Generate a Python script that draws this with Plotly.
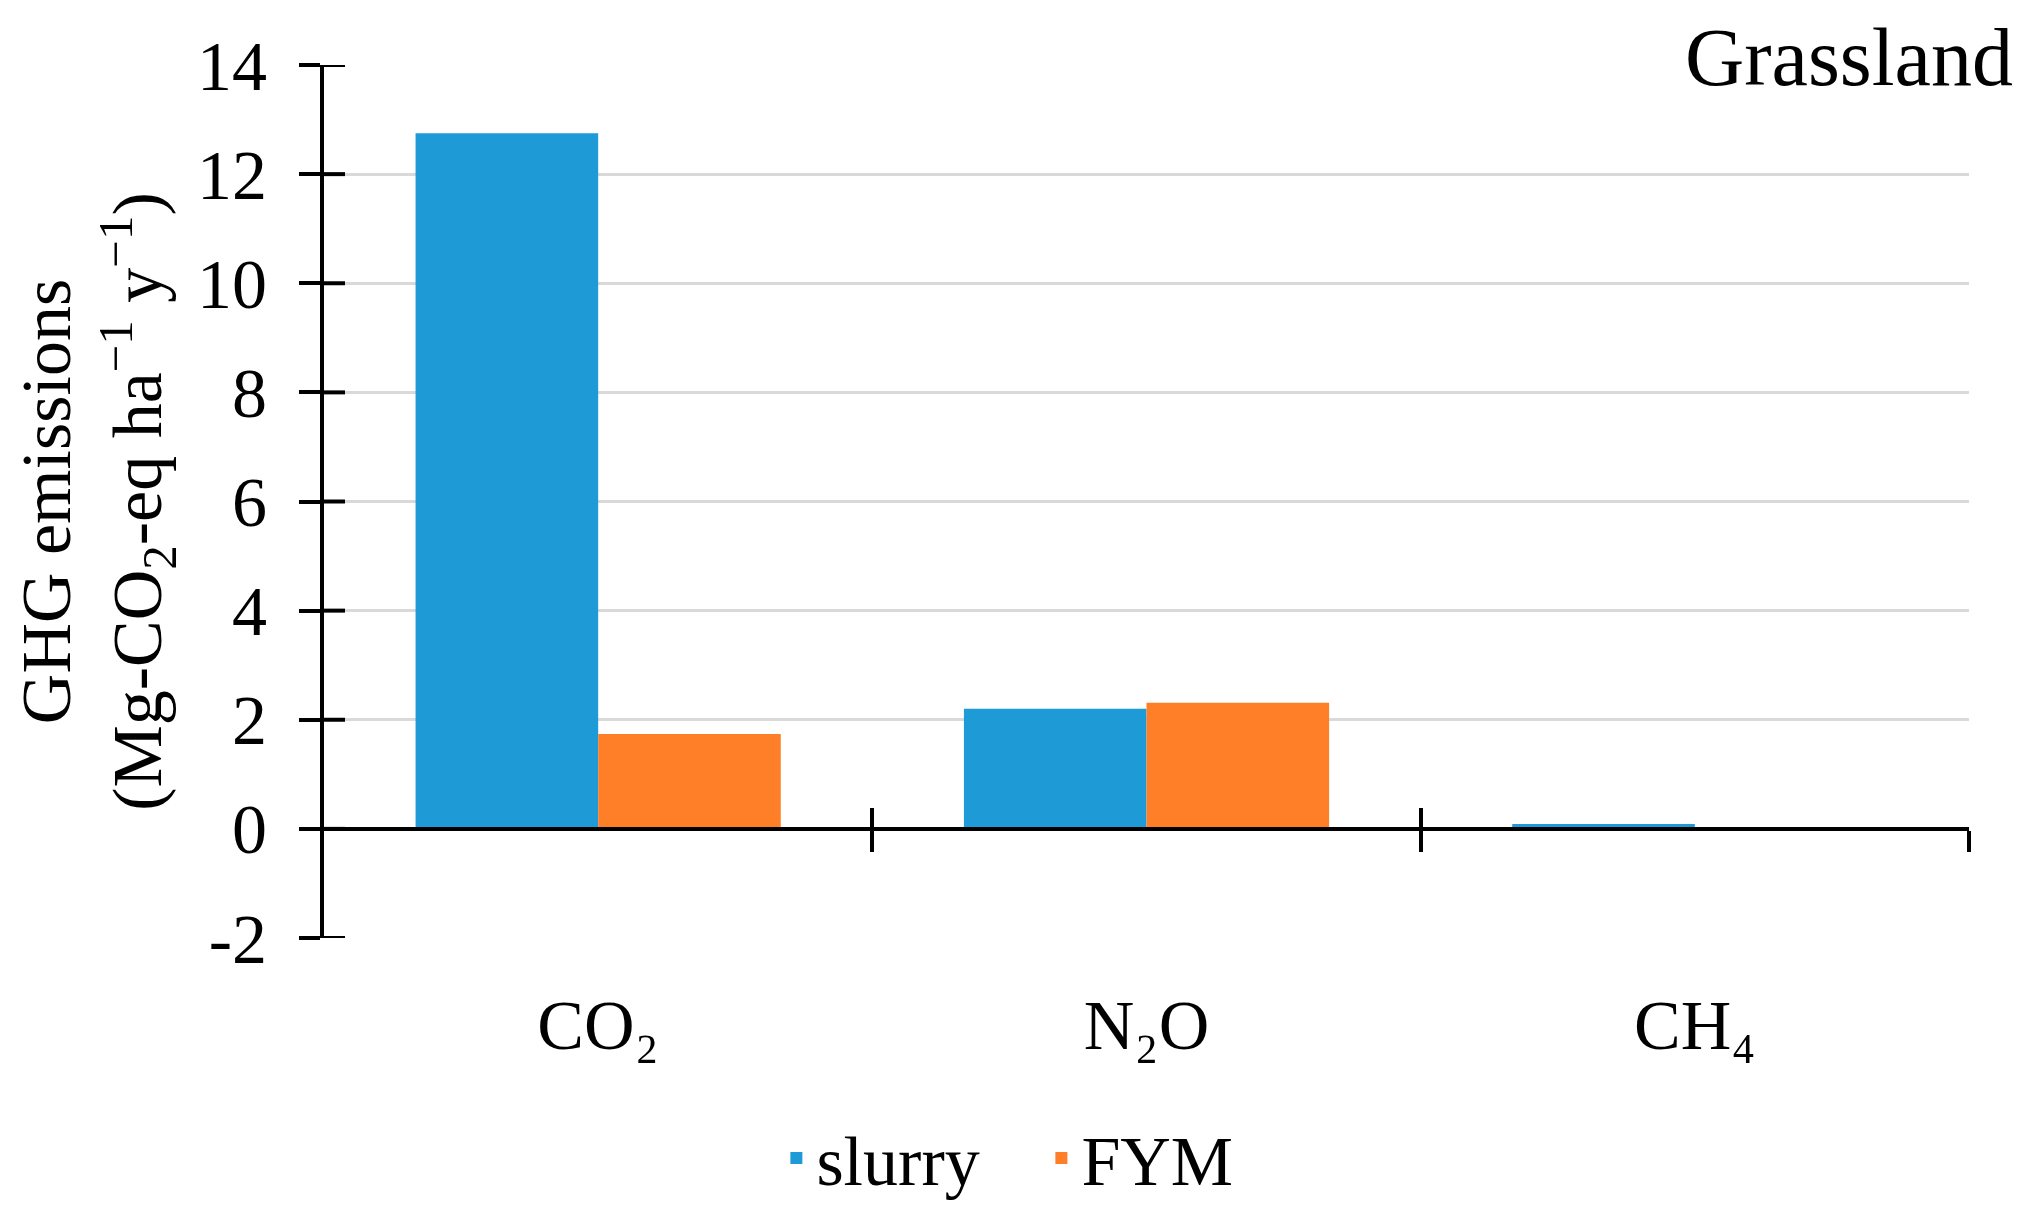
import plotly.graph_objects as go

categories = ["CO₂", "N₂O", "CH₄"]
slurry = [12.75, 2.20, 0.09]
fym = [1.74, 2.31, 0.0]
y_ticks = [-2, 0, 2, 4, 6, 8, 10, 12, 14]
y_tick_text = [str(v) for v in y_ticks]

FONT = "Liberation Serif, serif"
BLUE = "#1E9BD7"
ORANGE = "#FE7F27"
TICK_LEN = 21

boundaries = [i + 0.5 for i in range(len(categories))]
cat_range = [-0.5, len(categories) - 0.5]
y_range = [y_ticks[0], y_ticks[-1]]
zero_pos = (0 - y_range[0]) / (y_range[1] - y_range[0])

fig = go.Figure()
fig.add_trace(go.Bar(name="slurry", x=categories, y=slurry, marker_color=BLUE))
fig.add_trace(go.Bar(name="FYM", x=categories, y=fym, marker_color=ORANGE))
# empty helper traces so the overlay axes (cross ticks on the zero line) are drawn
fig.add_trace(go.Scatter(x=[], y=[], xaxis="x2", yaxis="y", showlegend=False, hoverinfo="skip"))
fig.add_trace(go.Scatter(x=[], y=[], xaxis="x3", yaxis="y", showlegend=False, hoverinfo="skip"))

# inner half of the cross-shaped y ticks (outer half drawn by the axis itself)
inner_ticks = [
    dict(type="line", xref="paper", yref="y", xsizemode="pixel", xanchor=0,
         x0=0, x1=TICK_LEN, y0=v, y1=v, layer="above",
         line=dict(color="black", width=4))
    for v in y_ticks
]

fig.update_layout(
    template="none",
    width=2032, height=1209,
    margin=dict(l=316, r=71, t=57, b=279, pad=0, autoexpand=False),
    paper_bgcolor="white", plot_bgcolor="white",
    font=dict(family=FONT, size=70, color="black"),
    barmode="group", bargap=0.334, bargroupgap=0,
    showlegend=True,
    legend=dict(orientation="h", x=0.275, xanchor="left", y=-0.252, yanchor="middle",
                font=dict(size=70, family=FONT), itemwidth=30, entrywidth=220,
                bgcolor="rgba(0,0,0,0)", borderwidth=0),
    xaxis=dict(type="category", categoryorder="array", categoryarray=categories,
               range=cat_range, showline=False, showgrid=False, zeroline=False,
               automargin=False, ticks="", ticklabelstandoff=40, tickfont=dict(size=70)),
    xaxis2=dict(overlaying="x", anchor="free", position=zero_pos, range=cat_range,
                tickmode="array", tickvals=boundaries, showticklabels=False,
                showline=True, linecolor="black", linewidth=4, automargin=False,
                ticks="outside", ticklen=TICK_LEN, tickwidth=4, tickcolor="black",
                showgrid=False, zeroline=False),
    xaxis3=dict(overlaying="x", anchor="free", position=zero_pos, range=cat_range,
                tickmode="array", tickvals=boundaries, showticklabels=False,
                showline=False, ticks="inside", ticklen=TICK_LEN, tickwidth=4, tickcolor="black",
                showgrid=False, zeroline=False, automargin=False),
    yaxis=dict(range=y_range, tickmode="array", tickvals=y_ticks, ticktext=y_tick_text,
               showgrid=True, gridcolor="#D9D9D9", gridwidth=3, zeroline=False,
               showline=True, linecolor="black", linewidth=4, automargin=False,
               ticks="outside", ticklen=TICK_LEN, tickwidth=4, tickcolor="black",
               ticklabelstandoff=18, tickfont=dict(size=70),
               title=dict(text="GHG emissions<br>(Mg-CO<sub>2</sub>-eq ha<sup>−1</sup> y<sup>−1</sup>)",
                          font=dict(size=70), standoff=30)),
    shapes=inner_ticks,
    annotations=[dict(text="Grassland", xref="paper", yref="paper", x=1.028, y=1.009,
                      xanchor="right", yanchor="middle", showarrow=False,
                      font=dict(size=82, family=FONT, color="black"))],
)

fig.write_html("out.html")
